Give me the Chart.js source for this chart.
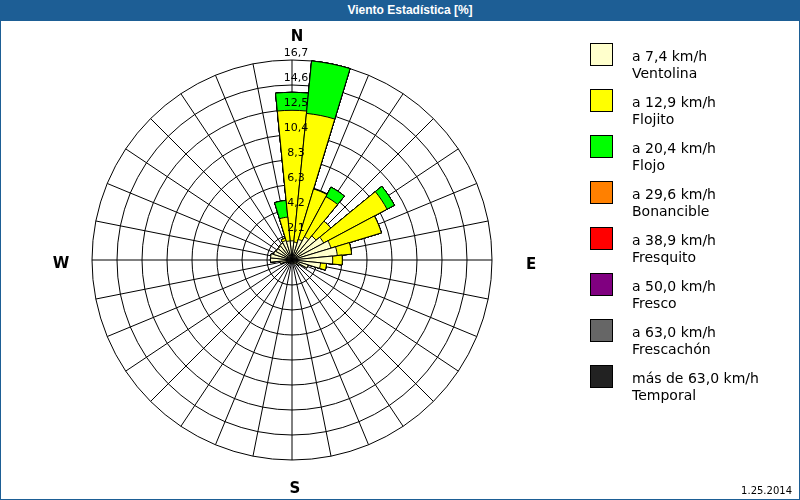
<!DOCTYPE html>
<html><head><meta charset="utf-8">
<script src="https://cdn.jsdelivr.net/npm/chart.js@4.4.0/dist/chart.umd.min.js"></script>
<style>
html,body{margin:0;padding:0;background:#fff;}
#frame{position:relative;width:800px;height:500px;overflow:hidden;background:#fff;}
#c{position:absolute;left:0;top:0;}
#title{position:absolute;left:0;top:0;width:820px;height:21px;background:#1D5E95;color:#fff;font:bold 12px "Liberation Sans",Arial,sans-serif;line-height:21px;text-align:center;}
#border{position:absolute;left:0;top:0;width:800px;height:500px;box-sizing:border-box;border:1px solid #1D5E95;pointer-events:none;}
#legend{position:absolute;left:590px;top:43px;}
.row{position:absolute;left:0;width:200px;height:46px;}
.sw{position:absolute;left:0;top:0;width:21px;height:21px;border:1px solid #000;}
.tx{position:absolute;left:42px;top:5px;font:14px "DejaVu Sans",sans-serif;line-height:17px;color:#000;white-space:nowrap;}
#date{position:absolute;right:8px;top:485px;font:10px "DejaVu Sans",sans-serif;color:#000;}
</style></head>
<body>
<div id="frame">
<canvas id="c" width="800" height="500"></canvas>
<div id="title">Viento Estadística [%]</div>
<div id="legend"></div>
<div id="date">1.25.2014</div>
<div id="border"></div>
</div>
<script>
// 32 wind directions (clockwise from North)
const directions = ['N','NpE','NNE','NEpN','NE','NEpE','ENE','EpN','E','EpS','ESE','SEpE','SE','SEpS','SSE','SpE',
                    'S','SpO','SSO','SOpS','SO','SOpO','OSO','OpS','O','OpN','ONO','NOpO','NO','NOpN','NNO','NpO'];
// frequency per speed class [%]
const ventolina  = [1.6,1.5,1.8,2.2,2.6,3.0,3.4,3.8,3.4,2.4,1.4,0.7,0.4,0.3,0.2,0.2,0.2,0.2,0.2,0.2,0.2,0.3,0.5,1.0,1.8,1.8,1.6,1.5,1.5,1.6,1.7,1.6];
const flojito    = [10.9,10.8,4.4,3.8,1.6,6.0,4.4,1.2,0.8,0.5,0,0,0,0,0,0,0,0,0,0,0,0,0,0,0,0,0,0,0,0,0.2,2.0];
const flojo      = [1.5,4.4,0,0.9,0,0.7,0,0,0,0,0,0,0,0,0,0,0,0,0,0,0,0,0,0,0,0,0,0,0,0,0,1.4];
const bonancible = new Array(32).fill(0);
const fresquito  = new Array(32).fill(0);
const fresco     = new Array(32).fill(0);
const frescachon = new Array(32).fill(0);
const temporal   = new Array(32).fill(0);

const speedLabels = ['a 7,4 km/h','a 12,9 km/h','a 20,4 km/h','a 29,6 km/h','a 38,9 km/h','a 50,0 km/h','a 63,0 km/h','más de 63,0 km/h'];
const classNames  = ['Ventolina','Flojito','Flojo','Bonancible','Fresquito','Fresco','Frescachón','Temporal'];
const classColors = ['#FFFFCC','#FFFF00','#00FF00','#FF8000','#FF0000','#800080','#666666','#222222'];
const ringLabels  = ['2,1','4,2','6,3','8,3','10,4','12,5','14,6','16,7'];
const compass     = ['N','E','S','W'];
const maxValue    = 16.7;

const series = [ventolina, flojito, flojo, bonancible, fresquito, fresco, frescachon, temporal];
// cumulative stacks (inner classes drawn on top)
const cumulative = [];
series.forEach((s, k) => {
  cumulative.push(s.map((v, i) => Math.round(((k ? cumulative[k-1][i] : 0) + v) * 100) / 100));
});

// HTML legend
const leg = document.getElementById('legend');
speedLabels.forEach((t, k) => {
  const row = document.createElement('div');
  row.className = 'row'; row.style.top = (k * 46) + 'px';
  row.innerHTML = '<div class="sw" style="background:' + classColors[k] + '"></div><div class="tx">' + t + '<br>' + classNames[k] + '</div>';
  leg.appendChild(row);
});

const ringValues = [0].concat(ringLabels.map((_, k) => maxValue * (k + 1) / ringLabels.length));

const overlay = {
  id: 'overlay',
  afterDatasetsDraw(chart) {
    const s = chart.scales.r, ctx = chart.ctx;
    const R = s.drawingArea;
    ctx.save();
    ctx.fillStyle = '#000';
    ctx.textAlign = 'center'; ctx.textBaseline = 'middle';
    ctx.font = '11px "DejaVu Sans"';
    ringLabels.forEach((t, k) => {
      const d = s.getDistanceFromCenterForValue(ringValues[k + 1]);
      ctx.fillText(t, s.xCenter + 4, s.yCenter - d - 7);
    });
    ctx.font = 'bold 15px "DejaVu Sans"';
    ctx.fillText(compass[0], s.xCenter + 5, s.yCenter - R - 23);
    ctx.fillText(compass[1], s.xCenter + R + 39, s.yCenter + 5);
    ctx.fillText(compass[2], s.xCenter + 3, s.yCenter + R + 29);
    ctx.fillText(compass[3], s.xCenter - R - 31, s.yCenter + 4);
    ctx.restore();
  }
};

new Chart(document.getElementById('c'), {
  type: 'polarArea',
  data: {
    labels: directions,
    datasets: cumulative.map((d, k) => ({
      label: classNames[k], data: d, rAxisID: 'r',
      backgroundColor: classColors[k], borderColor: '#000', borderWidth: 1
    }))
  },
  options: {
    responsive: false, animation: false,
    layout: { padding: { left: 92, top: 60, right: 307, bottom: 39 } },
    plugins: { legend: { display: false }, tooltip: { enabled: false }, title: { display: false } },
    scales: {
      r: {
        min: 0, max: maxValue, startAngle: -180 / directions.length,
        grid: { circular: true, color: '#000', lineWidth: 1 },
        angleLines: { display: false },
        ticks: { display: false },
        pointLabels: { display: false },
        afterBuildTicks: sc => { sc.ticks = ringValues.map(v => ({ value: v })); }
      },
      r2: {
        type: 'radialLinear', axis: 'r', min: 0, max: maxValue, startAngle: 0,
        grid: { display: false },
        angleLines: { display: true, color: '#000', lineWidth: 1 },
        ticks: { display: false },
        pointLabels: { display: false }
      }
    }
  },
  plugins: [overlay]
});
</script>
</body></html>
